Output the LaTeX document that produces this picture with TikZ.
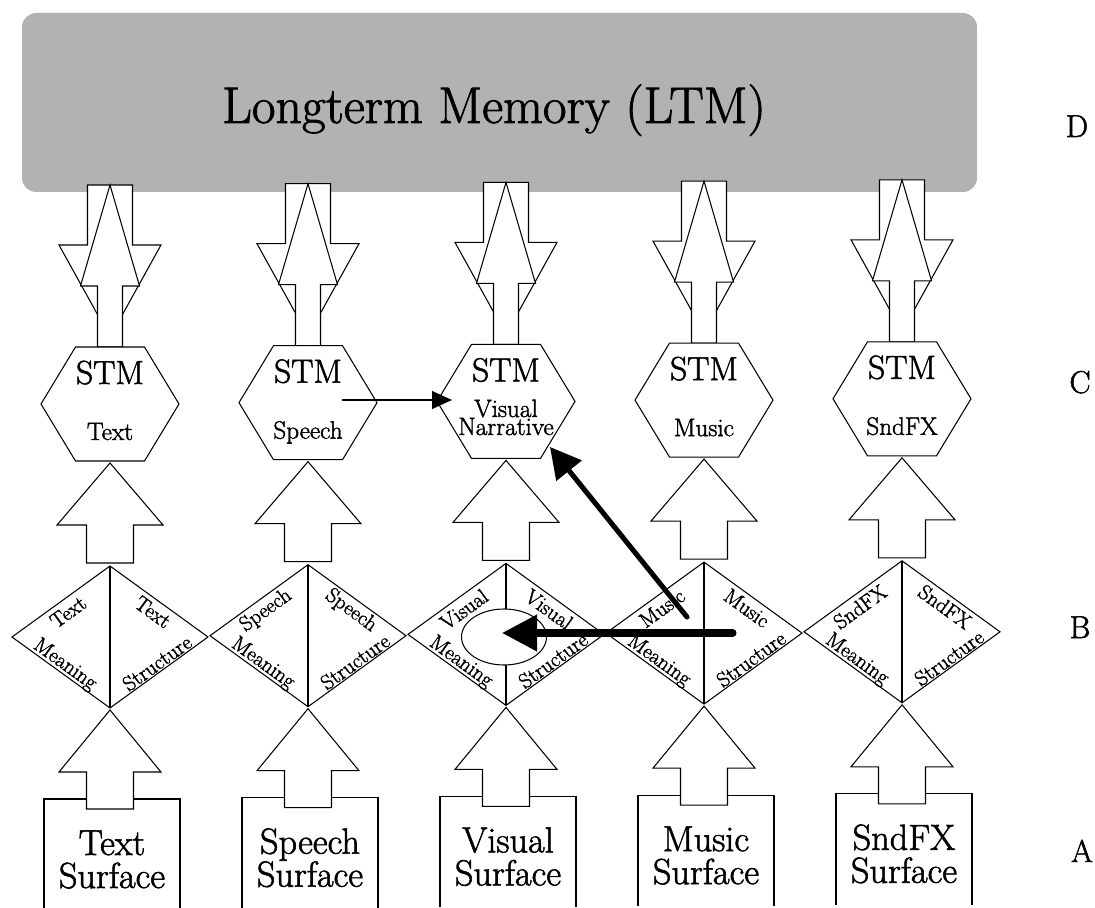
\documentclass[tikz,border=0pt]{standalone}
\usepackage{fontspec}
\setmainfont{Latin Modern Roman}[FakeBold=1.6]
\usetikzlibrary{arrows.meta,calc}
\tikzset{
  shp/.style={draw=black, fill=white, line width=0.9pt, line join=miter},
  ltmfill/.style={fill=black!30, draw=none, rounded corners=12pt},
  ltmtxt/.style={inner sep=0pt, anchor=base, font=\fontsize{44}{48}\selectfont},
  stmtxt/.style={inner sep=0pt, anchor=base, font=\fontsize{28.5}{32}\selectfont},
  subtxt/.style={inner sep=0pt, anchor=base, font=\fontsize{21.5}{24}\selectfont},
  dtxt/.style={inner sep=0pt, anchor=center, font=\fontsize{18}{20}\selectfont},
  surftxt/.style={inner sep=0pt, anchor=base, font=\fontsize{31}{34}\selectfont},
  rowtxt/.style={inner sep=0pt, anchor=base, font=\fontsize{27}{30}\selectfont},
  thinarrow/.style={line width=1.7pt, -{Triangle[length=17pt,width=15pt]}},
  fatarrow/.style={line width=4.3pt, line cap=round, -{Triangle[length=26pt,width=27pt]}},
  heavyarrow/.style={line width=6pt, line cap=round, -{Triangle[length=30pt,width=30pt]}}
}
\begin{document}
\begin{tikzpicture}[x=0.03cm,y=-0.03cm]
\useasboundingbox (0,0) rectangle (1095,908);
\clip (0,0) rectangle (1095,908);
\fill[white] (0,0) rectangle (1095,908);
% Longterm memory
\path[ltmfill] (22,13) rectangle (977,192);
\node[ltmtxt] (ltm) at (494,123) {Longterm Memory (LTM)};
% columns
\foreach \i/\cx/\w in {1/110/Text, 2/308/Speech, 3/506/Visual, 4/704/Music, 5/902/SndFX}{
  \pgfmathsetmacro{\dy}{-1.3*(\i-1)}
  \begin{scope}[shift={(\cx,\dy)}]
    % down arrow to column
    \draw[shp] (-22.5,185) -- (22.5,185) -- (22.5,245) -- (51,245) -- (0,337) -- (-51,245) -- (-22.5,245) -- cycle;
    % up arrow to LTM
    \draw[shp] (0,185) -- (29.5,286) -- (12.5,286) -- (12.5,347) -- (-12.5,347) -- (-12.5,286) -- (-29.5,286) -- cycle;
    % hexagon
    \draw[shp] (-69,404) -- (-34.5,347) -- (34.5,347) -- (69,404) -- (34.5,461) -- (-34.5,461) -- cycle;
    \coordinate (hex\i) at (0,404);
    % arrow diamond -> hexagon
    \draw[shp] (0,463) -- (53,525) -- (23.5,525) -- (23.5,563) -- (-23.5,563) -- (-23.5,525) -- (-53,525) -- cycle;
    % diamond
    \draw[shp] (-98,637) -- (0,566) -- (98,637) -- (0,708) -- cycle;
    \draw[line width=0.9pt] (0,566) -- (0,708);
    \coordinate (dia\i) at (0,637);
    % surface box
    \draw[shp] (-66,910) -- (-66,799) -- (70,799) -- (70,910);
    % arrow box -> diamond
    \draw[shp] (0,710) -- (51,772) -- (23.5,772) -- (23.5,809) -- (-23.5,809) -- (-23.5,772) -- (-51,772) -- cycle;
    % labels
    \node[stmtxt] (stm\i) at (0,384) {STM};
    \node[dtxt, rotate=35.9] (ul\i) at (-42,612) {\w};
    \node[dtxt, rotate=-35.9] (ur\i) at (43,612) {\w};
    \node[dtxt, rotate=-35.9] (mean\i) at (-45,665) {Meaning};
    \node[dtxt, rotate=35.9] (struc\i) at (47,663) {Structure};
    \node[surftxt] (sa\i) at (2,855) {\w};
    \node[surftxt] (sb\i) at (2,888) {Surface};
  \end{scope}
}
% hexagon sub-labels
\node[subtxt] (sub1) at (110,440) {Text};
\node[subtxt] (sub2) at (308,438.7) {Speech};
\node[subtxt] (sub3a) at (506,417) {Visual};
\node[subtxt] (sub3b) at (506,435) {Narrative};
\node[subtxt] (sub4) at (704,436.1) {Music};
\node[subtxt] (sub5) at (902,434.8) {SndFX};
% ellipse in visual diamond
\draw[shp] (504,637) ellipse [x radius=42.5, y radius=28];
% row letters
\node[rowtxt] (rD) at (1077,137) {D};
\node[rowtxt] (rC) at (1080,393) {C};
\node[rowtxt] (rB) at (1080,638) {B};
\node[rowtxt] (rA) at (1082,862) {A};
% black arrows
\coordinate (t1s) at (342,400);
\coordinate (t1e) at (452,400);
\draw[thinarrow] (t1s) -- (t1e);
\coordinate (d1s) at (687,617);
\coordinate (d1e) at (550,447);
\draw[fatarrow] (d1s) -- (d1e);
\coordinate (h1s) at (733,633);
\coordinate (h1e) at (502,633);
\draw[heavyarrow] (h1s) -- (h1e);
\end{tikzpicture}
\end{document}
